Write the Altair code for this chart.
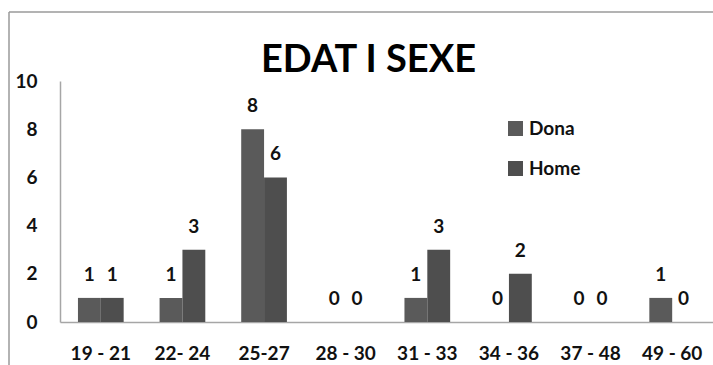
import altair as alt
import pandas as pd

# Age groups and counts per sex
age_groups = ["19 - 21", "22- 24", "25-27", "28 - 30", "31 - 33", "34 - 36", "37 - 48", "49 - 60"]
dona = [1, 1, 8, 0, 1, 0, 0, 1]
home = [1, 3, 6, 0, 3, 2, 0, 0]
series = ["Dona", "Home"]
colors = ["#5a5a5a", "#4e4e4e"]
y_ticks = [0, 2, 4, 6, 8, 10]

rows = []
for i, g in enumerate(age_groups):
    rows.append({"edat": g, "sexe": "Dona", "n": dona[i]})
    rows.append({"edat": g, "sexe": "Home", "n": home[i]})
df = pd.DataFrame(rows)

FONT = "Lato"

x_enc = alt.X(
    "edat:N",
    sort=age_groups,
    scale=alt.Scale(paddingInner=0.44, paddingOuter=0.22),
    axis=alt.Axis(
        title=None, labelAngle=0, ticks=False, labelPadding=22,
        labelFont=FONT, labelFontSize=19, labelFontWeight="bold",
        labelColor="#111111", domainColor="#a6a6a6", domainWidth=1.5,
    ),
)
xoff = alt.XOffset("sexe:N", sort=series)

base = alt.Chart(df)

bars = base.mark_bar().encode(
    x=x_enc,
    xOffset=xoff,
    y=alt.Y(
        "n:Q",
        scale=alt.Scale(domain=[0, 10], nice=False),
        axis=alt.Axis(
            title=None, values=y_ticks, grid=False, ticks=False, labelPadding=23,
            labelFont=FONT, labelFontSize=19, labelFontWeight="bold",
            labelColor="#111111", domainColor="#a6a6a6", domainWidth=1.5,
        ),
    ),
    color=alt.Color(
        "sexe:N",
        sort=series,
        scale=alt.Scale(domain=series, range=colors),
        legend=alt.Legend(
            title=None, orient="none", legendX=446, legendY=38,
            symbolType="square", symbolSize=225, symbolStrokeWidth=0,
            symbolOpacity=1, labelFont=FONT, labelFontSize=19,
            labelFontWeight="bold", labelColor="#111111", labelOffset=4,
            rowPadding=20, padding=0,
        ),
    ),
)

labels = base.mark_text(
    dy=-23, baseline="middle", font=FONT, fontSize=19, fontWeight="bold", color="#111111"
).encode(
    x=alt.X("edat:N", sort=age_groups),
    xOffset=xoff,
    y="n:Q",
    text="n:Q",
)

# Outer frame of the chart box (left and top edges)
frame_df = pd.DataFrame({"k": [0]})
frame_left = alt.Chart(frame_df).mark_rule(color="#9a9a9a", strokeWidth=1.5).encode(
    x=alt.value(-51), y=alt.value(-69), y2=alt.value(300)
)
frame_top = alt.Chart(frame_df).mark_rule(color="#9a9a9a", strokeWidth=1.5).encode(
    x=alt.value(-51), x2=alt.value(700), y=alt.value(-69)
)

chart = (
    alt.layer(frame_left, frame_top, bars, labels)
    .properties(
        width=653,
        height=241,
        autosize=alt.AutoSizeParams(type="none"),
        padding={"left": 60, "top": 81, "right": 0, "bottom": 43},
        title=alt.TitleParams(
            "EDAT I SEXE", font=FONT, fontSize=38, fontWeight="bold",
            color="#000000", anchor="middle", dx=-18, offset=-69,
        ),
        background="white",
    )
    .configure_view(stroke=None)
)

chart.save("out.html", embed_options={"renderer": "svg", "actions": False})
